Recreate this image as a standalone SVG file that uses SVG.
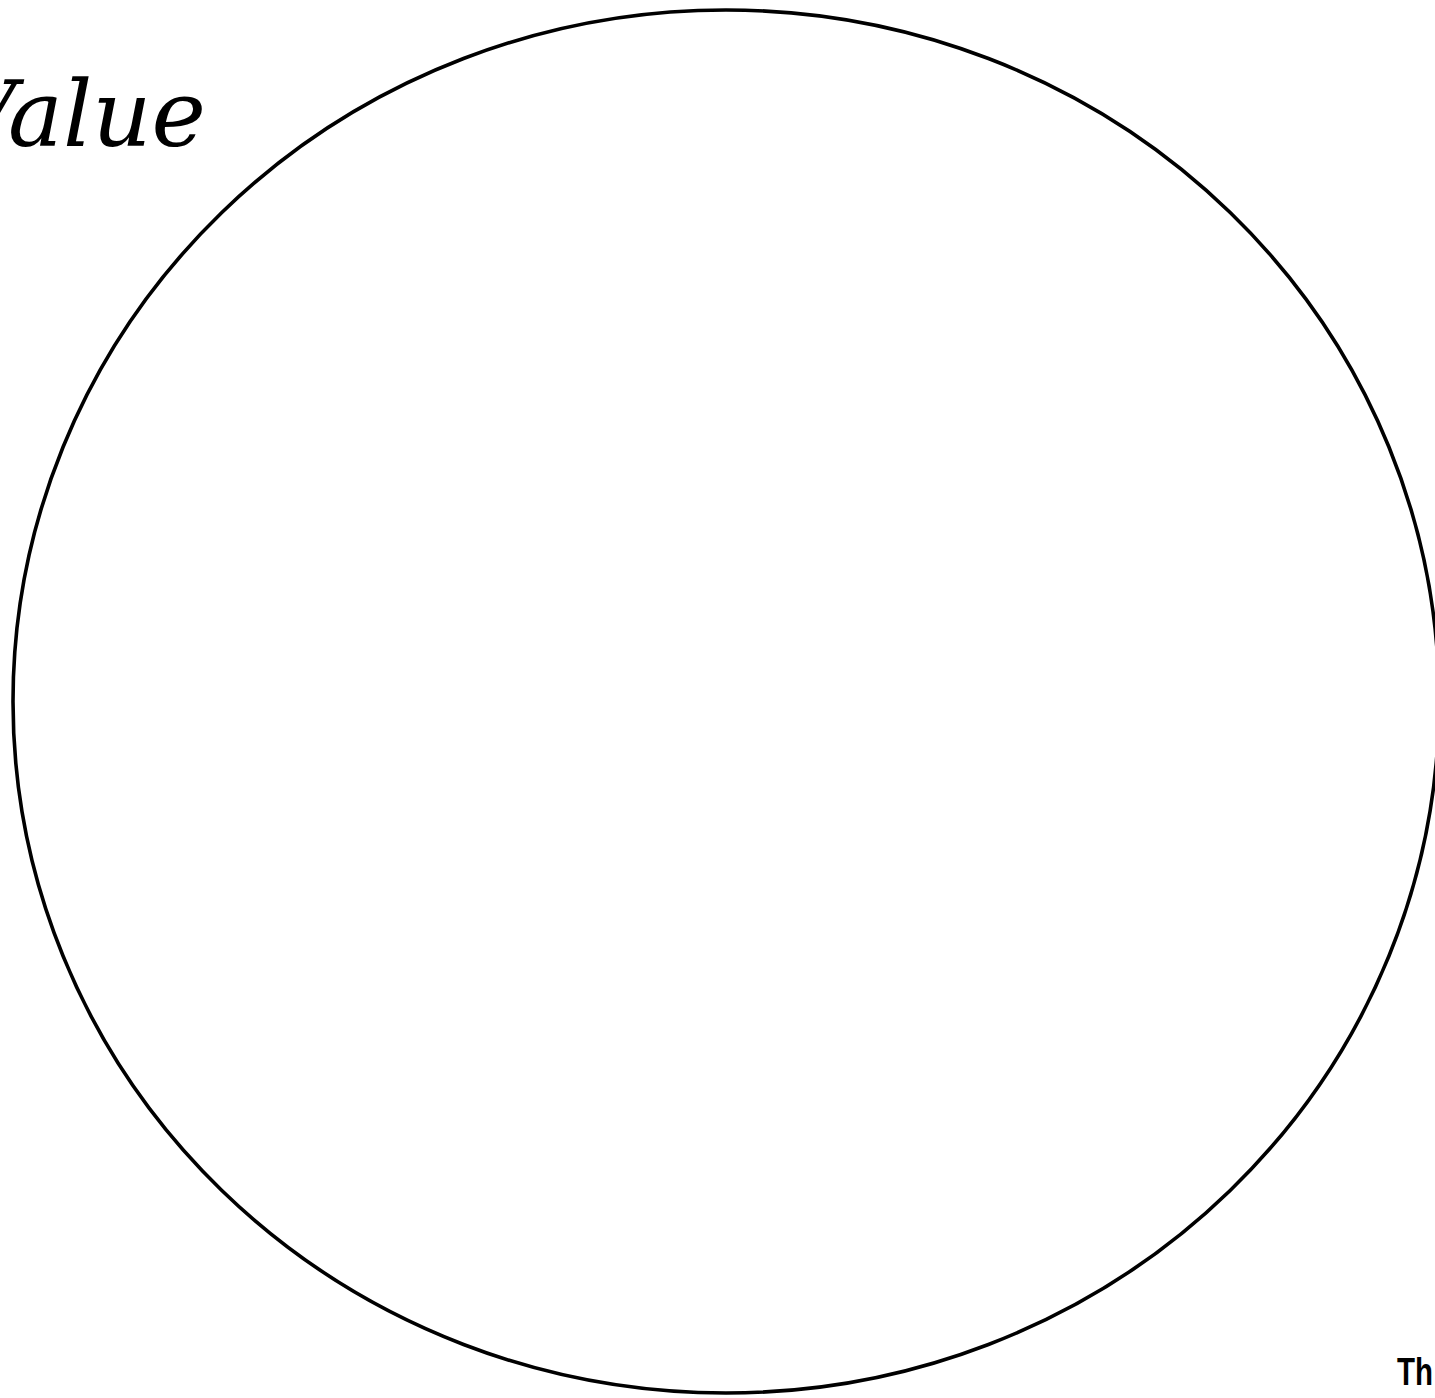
<svg xmlns="http://www.w3.org/2000/svg" width="1435" height="1398" viewBox="0 0 1435 1398">
  <style>
    .title { font-family: "DejaVu Serif", serif; font-style: italic; font-size: 92px; fill: #000; }
    .note { font-family: "Liberation Sans", sans-serif; font-weight: bold; font-size: 38px; fill: #000; }
    .ring { fill: none; stroke: #000; stroke-width: 3.6; }
  </style>
  <rect width="1435" height="1398" fill="#fff"/>
  <g id="circle">
    <ellipse class="ring" cx="726" cy="701.5" rx="713" ry="691.5"/>
  </g>
  <g id="title">
    <text class="title" x="206" y="146" text-anchor="end">Value</text>
  </g>
  <g id="note">
    <text class="note" x="1397" y="1385" textLength="36" lengthAdjust="spacingAndGlyphs">Th</text>
  </g>
  <g id="connectors"></g>
</svg>
